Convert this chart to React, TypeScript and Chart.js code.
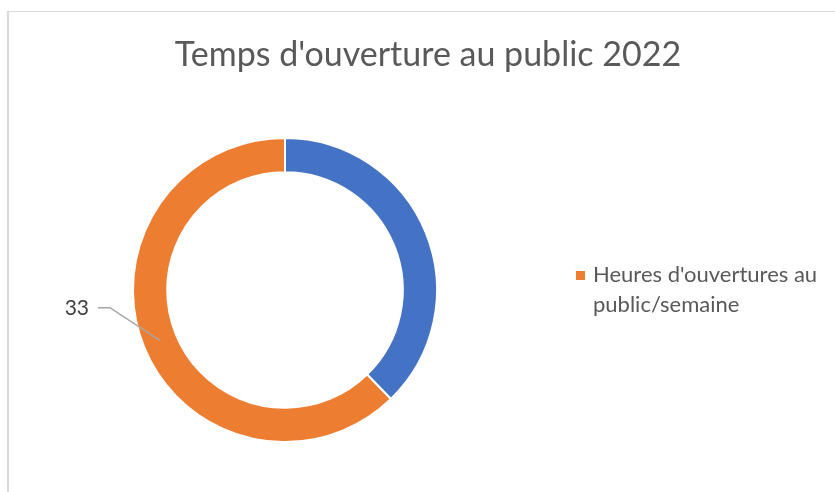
import React, { useEffect, useRef } from "react";
import { Chart, registerables } from "chart.js";

Chart.register(...registerables);

const titleText = "Temps d'ouverture au public 2022";
const categories = ["", "Heures d'ouvertures au public/semaine"];
const values = [20, 33];
const colors = ["#4472C4", "#ED7D31"];
const showValueLabel = [false, true];
const showInLegend = [false, true];

const TEXT_COLOR = "#595959";
const FONT = "Lato, 'Open Sans', sans-serif";

function wrapText(ctx: CanvasRenderingContext2D, text: string, maxWidth: number): string[] {
  const words = text.split(" ");
  const lines: string[] = [];
  let cur = "";
  for (const w of words) {
    const test = cur ? cur + " " + w : w;
    if (ctx.measureText(test).width > maxWidth && cur) {
      lines.push(cur);
      cur = w;
    } else {
      cur = test;
    }
  }
  if (cur) lines.push(cur);
  return lines;
}

const decorPlugin = {
  id: "decor",
  afterDraw(chart: any) {
    const ctx: CanvasRenderingContext2D = chart.ctx;
    ctx.save();
    // Title
    ctx.fillStyle = TEXT_COLOR;
    ctx.font = `34px ${FONT}`;
    ctx.textAlign = "center";
    ctx.textBaseline = "alphabetic";
    ctx.fillText(titleText, 428, 66);

    // Legend
    ctx.font = `22px ${FONT}`;
    ctx.textAlign = "left";
    let y = 282;
    categories.forEach((cat, i) => {
      if (!showInLegend[i]) return;
      ctx.fillStyle = colors[i];
      ctx.fillRect(576, y - 11, 9, 9);
      ctx.fillStyle = TEXT_COLOR;
      const lines = wrapText(ctx, cat, 240);
      lines.forEach((ln, k) => ctx.fillText(ln, 593, y + k * 30));
      y += lines.length * 30;
    });

    // Data labels with leader line
    const meta = chart.getDatasetMeta(0);
    values.forEach((v, i) => {
      if (!showValueLabel[i]) return;
      const arc = meta.data[i];
      const p = arc.getCenterPoint();
      const ex = p.x - 50;
      const ey = p.y - 33;
      ctx.strokeStyle = "#A6A6A6";
      ctx.lineWidth = 1.5;
      ctx.beginPath();
      ctx.moveTo(p.x, p.y);
      ctx.lineTo(ex, ey);
      ctx.lineTo(ex - 12, ey);
      ctx.stroke();
      ctx.fillStyle = "#404040";
      ctx.font = `21px ${FONT}`;
      ctx.textAlign = "right";
      ctx.textBaseline = "middle";
      ctx.fillText(String(v), ex - 21, ey + 1);
    });
    ctx.restore();
  },
};

export default function App() {
  const canvasRef = useRef<HTMLCanvasElement | null>(null);

  useEffect(() => {
    if (!canvasRef.current) return;
    const chart = new Chart(canvasRef.current, {
      type: "doughnut",
      data: {
        labels: categories,
        datasets: [
          {
            data: values,
            backgroundColor: colors,
            borderColor: "#ffffff",
            borderWidth: 2,
            hoverOffset: 0,
          },
        ],
      },
      options: {
        animation: false,
        responsive: false,
        maintainAspectRatio: false,
        cutout: "77.5%",
        layout: { padding: { left: 132, top: 137, right: 397, bottom: 49 } },
        plugins: {
          legend: { display: false },
          title: { display: false },
          tooltip: { enabled: false },
        },
        events: [],
      },
      plugins: [decorPlugin],
    });
    return () => chart.destroy();
  }, []);

  return (
    <div
      style={{
        position: "absolute",
        left: 0,
        top: 0,
        width: 835,
        height: 492,
        overflow: "hidden",
        background: "#ffffff",
      }}
    >
      <div
        style={{
          position: "absolute",
          left: 7,
          top: 11,
          width: 1000,
          height: 1000,
          borderLeft: "2px solid #D9D9D9",
          borderTop: "1px solid #D9D9D9",
        }}
      />
      <canvas
        ref={canvasRef}
        width={835}
        height={492}
        style={{ position: "absolute", left: 0, top: 0, width: 835, height: 492 }}
      />
    </div>
  );
}
